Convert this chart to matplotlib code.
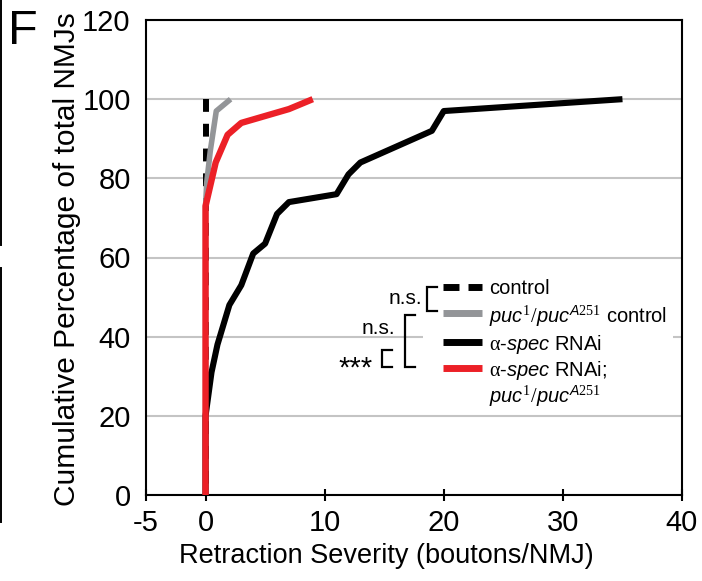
import matplotlib
matplotlib.use("Agg")
import matplotlib.pyplot as plt
from matplotlib.lines import Line2D
from matplotlib.patches import Rectangle

plt.rcParams['font.family'] = ['Liberation Sans', 'DejaVu Sans']
plt.rcParams['mathtext.fontset'] = 'custom'
plt.rcParams['mathtext.it'] = 'Liberation Sans:italic'
plt.rcParams['mathtext.rm'] = 'Liberation Serif'
plt.rcParams['mathtext.sf'] = 'Liberation Sans'
plt.rcParams['axes.unicode_minus'] = False

# ---------------- data ----------------
control_x = [0, 0]
control_y = [0, 100]

puc_x = [0, 0, 0.1, 0.4, 0.9, 2.1]
puc_y = [0, 73, 79, 87, 97, 100]

spec_x = [0, 0, 0.5, 1, 2, 3, 4, 5, 6, 7, 11, 12, 13, 19, 20, 35]
spec_y = [0, 20, 31, 38, 48, 53, 61, 63.5, 71, 74, 76, 81, 84, 92, 97, 100]

spec_puc_x = [0, 0, 0.85, 1.85, 3, 7, 9]
spec_puc_y = [0, 73, 84, 91, 94, 97.5, 100]

x_ticks = [-5, 0, 10, 20, 30, 40]
y_ticks = [0, 20, 40, 60, 80, 100, 120]

labels = ['control',
          r'$\mathit{puc^{1}/puc^{A251}}$ control',
          r'$\mathrm{\alpha}$-$\mathit{spec}$ RNAi',
          r'$\mathrm{\alpha}$-$\mathit{spec}$ RNAi;',
          r'$\mathit{puc^{1}/puc^{A251}}$']
sig_labels = ['n.s.', 'n.s.', '***']

# ---------------- styles ----------------
BLACK = '#000000'
GRAY = '#939598'
RED = '#ec2027'

W, H = 702, 581
fig = plt.figure(figsize=(W / 100, H / 100), dpi=100)
L, R, T, B = 146, 682, 20, 495
ax = fig.add_axes([L / W, 1 - B / H, (R - L) / W, (B - T) / H])

# control drawn from the top so that the dash pattern starts at 100 %
ax.plot(control_x[::-1], control_y[::-1], color=BLACK, lw=4.3, dashes=(2.15, 2.0),
        solid_capstyle='butt', dash_capstyle='butt', zorder=2)
ax.plot(puc_x, puc_y, color=GRAY, lw=4.0, solid_capstyle='butt', zorder=3)
ax.plot(spec_x, spec_y, color=BLACK, lw=4.4, solid_capstyle='butt', zorder=4)
ax.plot(spec_puc_x, spec_puc_y, color=RED, lw=4.6, solid_capstyle='butt', zorder=5)

ax.set_xlim(-5, 40)
ax.set_ylim(0, 120)
ax.set_xticks(x_ticks)
ax.set_yticks(y_ticks)
ax.yaxis.grid(True, color='#c4c4c4', lw=1.5, zorder=0)
ax.set_axisbelow(True)
for s in ax.spines.values():
    s.set_linewidth(1.5)
    s.set_color('black')
ax.tick_params(axis='x', direction='inout', length=8, width=1.5,
               labelsize=21, pad=6)
ax.tick_params(axis='y', length=0, labelsize=21, pad=11)


def fx(px):
    return (px - L) / (R - L)


def fy(py):
    return (B - py) / (B - T)


ax.set_xlabel('Retraction Severity (boutons/NMJ)', fontsize=19.5)
ax.xaxis.set_label_coords(fx(386), fy(556))
ax.xaxis.label.set_va('center')
ax.set_ylabel('Cumulative Percentage of total NMJs', fontsize=21.5)
ax.yaxis.set_label_coords(fx(67), fy(259))
ax.yaxis.label.set_va('center')

# ---------------- legend (annotation) ----------------
ax.add_patch(Rectangle((fx(423), fy(405)), fx(673) - fx(423), fy(275) - fy(405),
                       transform=ax.transAxes, facecolor='white',
                       edgecolor='none', zorder=1))

rows = [287, 313, 342, 368, 393]
styles = [dict(color=BLACK, dashes=(2.3, 1.3)),
          dict(color=GRAY),
          dict(color=BLACK),
          dict(color=RED)]
for py, st in zip(rows[:4], styles):
    ax.add_line(Line2D([fx(443), fx(482)], [fy(py), fy(py)], lw=5.0,
                       transform=ax.transAxes, solid_capstyle='butt',
                       dash_capstyle='butt', zorder=6, **st))
for py, lab in zip(rows, labels):
    ax.text(fx(489), fy(py), lab, transform=ax.transAxes, fontsize=14.5,
            va='center_baseline', ha='left', zorder=6)

brackets = [(427, 437, 287, 311), (405, 415, 315, 367), (382, 392, 350, 367)]
for xv, xt, y0, y1 in brackets:
    ax.add_line(Line2D([fx(xt), fx(xv), fx(xv), fx(xt)],
                       [fy(y0), fy(y0), fy(y1), fy(y1)], lw=1.6, color='black',
                       transform=ax.transAxes, zorder=6,
                       solid_joinstyle='miter'))
sig_pos = [(422, 297, 15, 'center_baseline'),
           (395, 326, 15, 'center_baseline'),
           (373, 377, 21, 'baseline')]
for (px, py, fs, va), lab in zip(sig_pos, sig_labels):
    ax.text(fx(px), fy(py), lab, transform=ax.transAxes, fontsize=fs,
            va=va, ha='right', zorder=6)

# ---------------- panel letter & edge remnants ----------------
fig.text(8 / W, 1 - 44 / H, 'F', fontsize=35, ha='left', va='baseline')
for y0, y1 in [(0, 245), (268, 522)]:
    fig.add_artist(Line2D([1 / W, 1 / W], [1 - y0 / H, 1 - y1 / H],
                          transform=fig.transFigure, color='black', lw=1.4))

fig.savefig('out.png', dpi=100)
